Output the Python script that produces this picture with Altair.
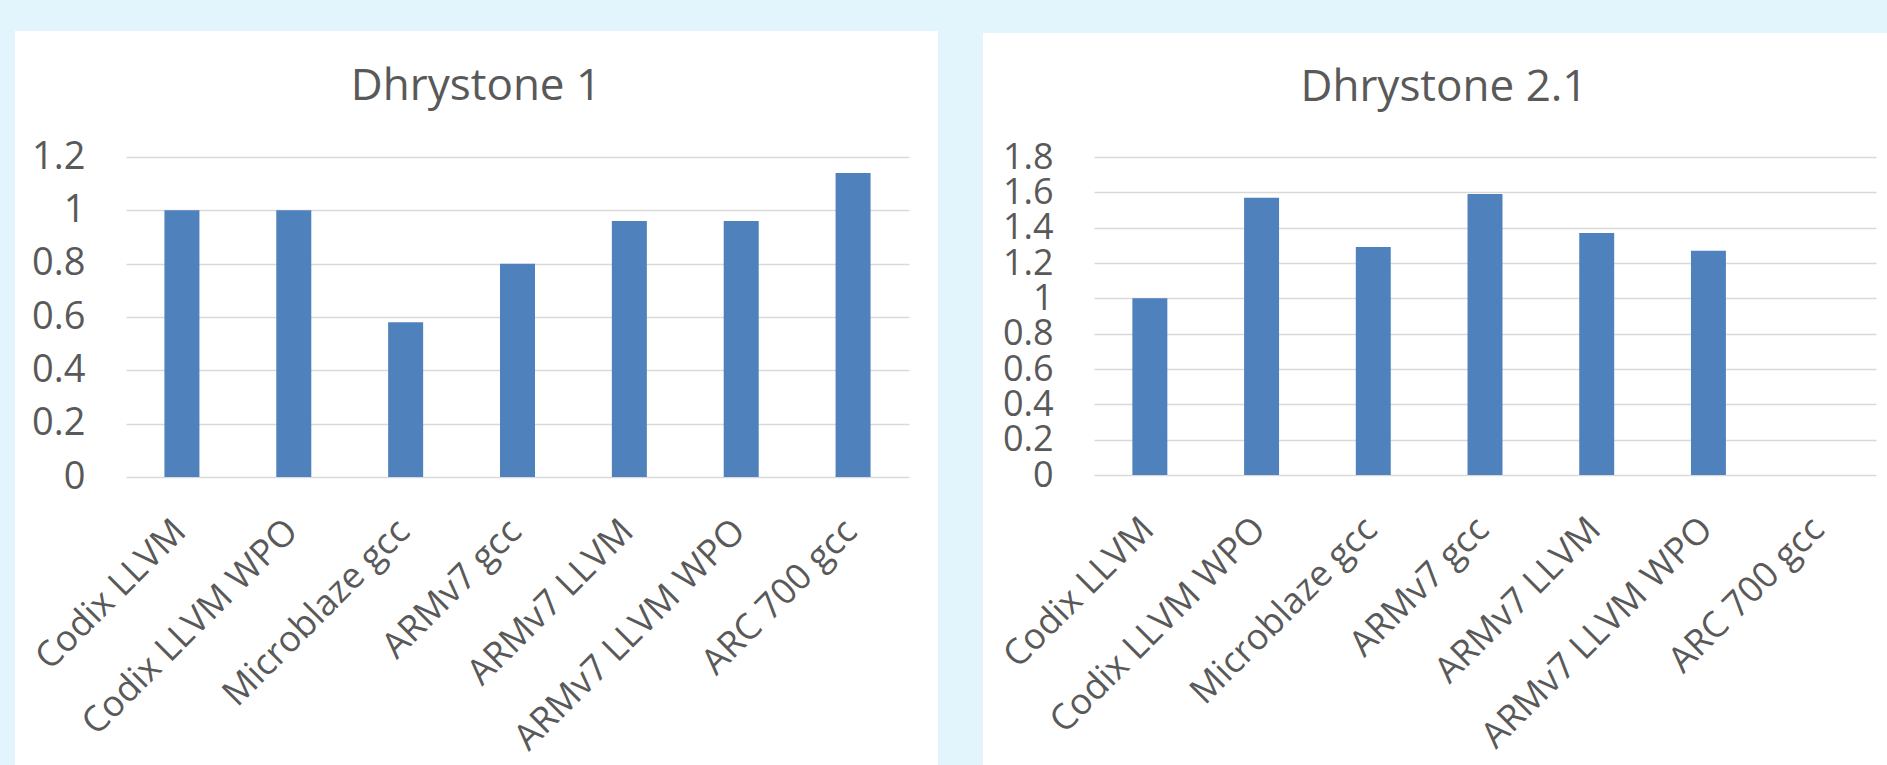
import altair as alt
import pandas as pd

categories = ["Codix LLVM", "Codix LLVM WPO", "Microblaze gcc", "ARMv7 gcc",
              "ARMv7 LLVM", "ARMv7 LLVM WPO", "ARC 700 gcc"]
dhry1 = [1.0, 1.0, 0.58, 0.80, 0.96, 0.96, 1.14]
dhry21 = [1.0, 1.57, 1.29, 1.59, 1.37, 1.27, None]
ticks1 = [0, 0.2, 0.4, 0.6, 0.8, 1, 1.2]
ticks21 = [0, 0.2, 0.4, 0.6, 0.8, 1, 1.2, 1.4, 1.6, 1.8]
titles = ["Dhrystone 1", "Dhrystone 2.1"]

FONT = "Open Sans"
TXT = "#595959"
BAR = "#4F81BD"
BG = "#E2F5FD"

df1 = pd.DataFrame({"cat": categories, "v": dhry1})
df2 = pd.DataFrame({"cat": categories, "v": dhry21}).dropna()
one = pd.DataFrame({"k": [0]})


def xaxis():
    return alt.Axis(title=None, labelAngle=-45, labelAlign="right",
                    labelBaseline="alphabetic", labelPadding=56, labelOffset=6,
                    labelFontSize=36, labelFont=FONT, labelColor=TXT,
                    domain=False, ticks=False, grid=False, labelOverlap=False,
                    labelLimit=0)


def yaxis(vals, size):
    return alt.Axis(title=None, values=vals, format="~g", domain=False,
                    ticks=False, labelPadding=41, labelFontSize=size,
                    labelFont=FONT, labelColor=TXT, gridColor="#D9D9D9",
                    gridWidth=1.5, labelOverlap=False)


def bars(df, vals, dom, size):
    return alt.Chart(df).mark_bar(color=BAR).encode(
        x=alt.X("cat:N", sort=categories,
                scale=alt.Scale(domain=categories, paddingInner=0.687,
                                paddingOuter=0.3435),
                axis=xaxis()),
        y=alt.Y("v:Q", scale=alt.Scale(domain=dom, nice=False, zero=True),
                axis=yaxis(vals, size)),
    )


def strip(x, x2, y, y2):
    return alt.Chart(one).mark_rect(color=BG).encode(
        x=alt.value(x), x2=alt.value(x2), y=alt.value(y), y2=alt.value(y2))


def title(t, x, y):
    return alt.Chart(one).mark_text(
        font=FONT, fontSize=44, color=TXT, align="center",
        baseline="alphabetic").encode(
        text=alt.value(t), x=alt.value(x), y=alt.value(y))


left = alt.layer(
    bars(df1, ticks1, [0, 1.2], 38),
    strip(-126, 1761, -157, -126),
    strip(857, 1761, -157, -124),
    strip(-126, -111, -157, 608),
    strip(812, 857, -157, 608),
    title(titles[0], 350, -57),
).properties(width=783, height=320)

right = alt.layer(
    bars(df2, ticks21, [0, 1.8], 36),
    title(titles[1], 350, -56),
).properties(width=782, height=318)

chart = alt.hconcat(left, right, spacing=185, bounds="flush").properties(
    background="white", padding=0
).configure_view(stroke=None)

chart.save("out.html", embed_options={"renderer": "svg", "actions": False})
